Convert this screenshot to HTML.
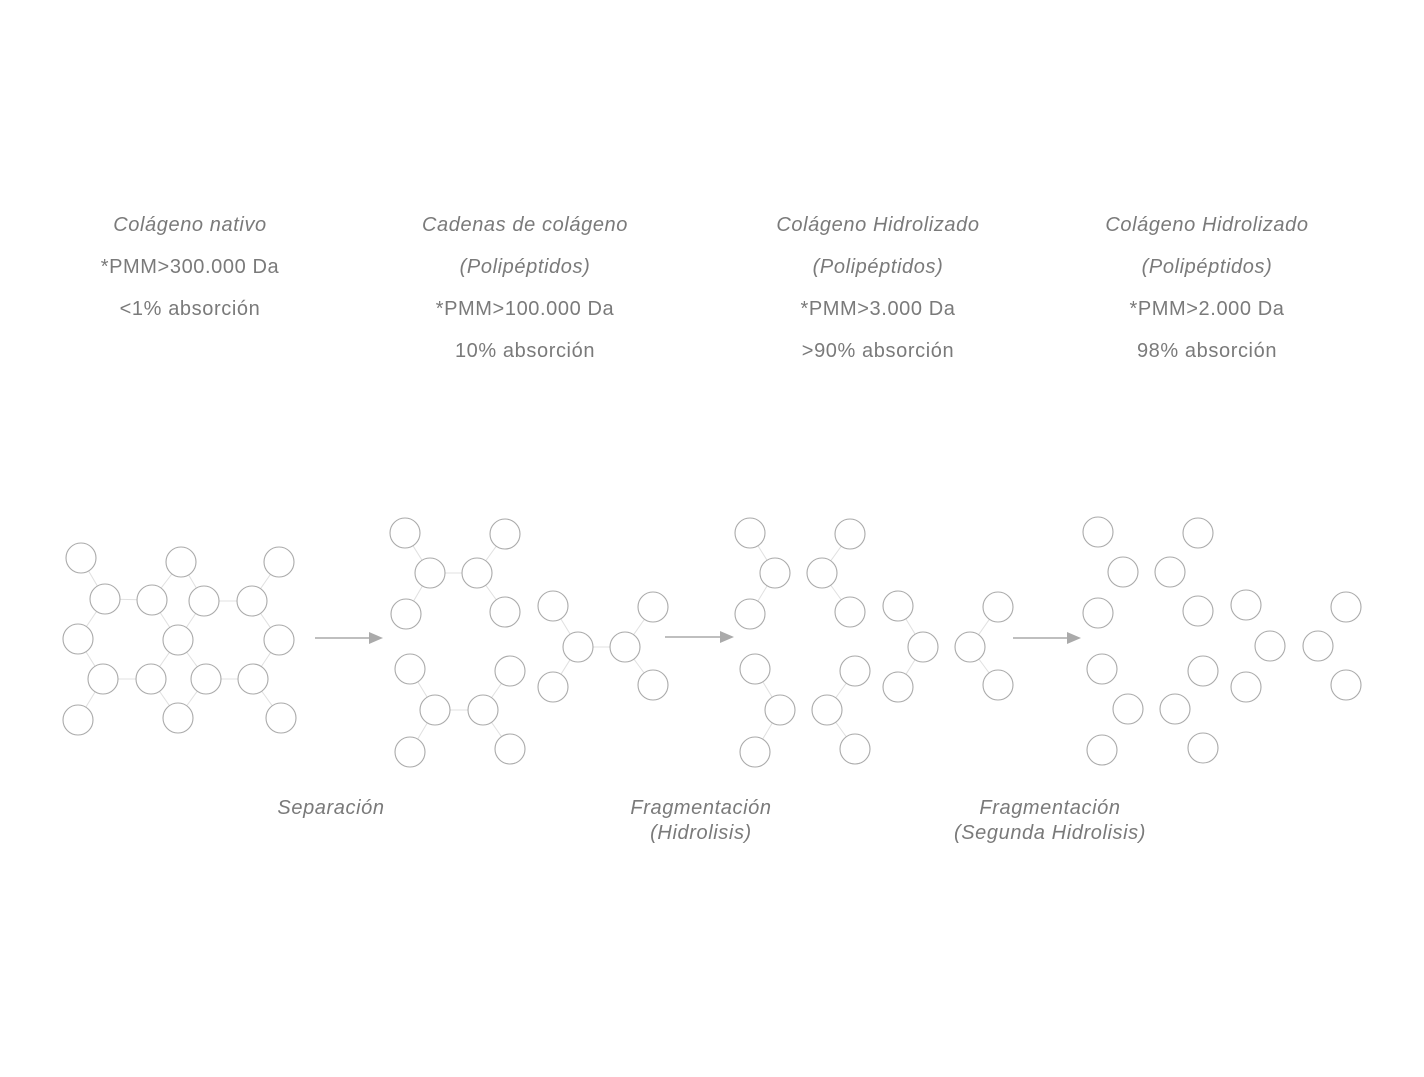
<!DOCTYPE html>
<html><head><meta charset="utf-8"><style>
html,body{margin:0;padding:0;background:#fff;}
svg{display:block;}
text{font-family:"Liberation Sans",sans-serif;font-size:20px;letter-spacing:0.6px;fill:#7a7a7a;}
.i{font-style:italic;}
circle{fill:#fff;stroke:#aaa;stroke-width:1.1;}
line.e{stroke:#e0e0e0;stroke-width:1;}
</style></head><body>
<svg width="1424" height="1077" viewBox="0 0 1424 1077">
<g text-anchor="middle">
<text x="190" y="231" class="i">Colágeno nativo</text>
<text x="190" y="273">*PMM&gt;300.000 Da</text>
<text x="190" y="315">&lt;1% absorción</text>
<text x="525" y="231" class="i">Cadenas de colágeno</text>
<text x="525" y="273" class="i">(Polipéptidos)</text>
<text x="525" y="315">*PMM&gt;100.000 Da</text>
<text x="525" y="357">10% absorción</text>
<text x="878" y="231" class="i">Colágeno Hidrolizado</text>
<text x="878" y="273" class="i">(Polipéptidos)</text>
<text x="878" y="315">*PMM&gt;3.000 Da</text>
<text x="878" y="357">&gt;90% absorción</text>
<text x="1207" y="231" class="i">Colágeno Hidrolizado</text>
<text x="1207" y="273" class="i">(Polipéptidos)</text>
<text x="1207" y="315">*PMM&gt;2.000 Da</text>
<text x="1207" y="357">98% absorción</text>
<text x="331" y="814" class="i">Separación</text>
<text x="701" y="814" class="i">Fragmentación</text>
<text x="701" y="839" class="i">(Hidrolisis)</text>
<text x="1050" y="814" class="i">Fragmentación</text>
<text x="1050" y="839" class="i">(Segunda Hidrolisis)</text>
</g>
<g stroke="#999" stroke-width="1.2">
<line x1="315" y1="638" x2="370" y2="638"/>
<line x1="665" y1="637" x2="721" y2="637"/>
<line x1="1013" y1="638" x2="1068" y2="638"/>
</g>
<g fill="#aaa">
<polygon points="369,632 383,638 369,644"/>
<polygon points="720,631 734,637 720,643"/>
<polygon points="1067,632 1081,638 1067,644"/>
</g>
<g>
<line class="e" x1="81" y1="558" x2="105" y2="599"/>
<line class="e" x1="105" y1="599" x2="152" y2="600"/>
<line class="e" x1="105" y1="599" x2="78" y2="639"/>
<line class="e" x1="78" y1="639" x2="103" y2="679"/>
<line class="e" x1="103" y1="679" x2="151" y2="679"/>
<line class="e" x1="103" y1="679" x2="78" y2="720"/>
<line class="e" x1="152" y1="600" x2="181" y2="562"/>
<line class="e" x1="152" y1="600" x2="178" y2="640"/>
<line class="e" x1="181" y1="562" x2="204" y2="601"/>
<line class="e" x1="204" y1="601" x2="178" y2="640"/>
<line class="e" x1="204" y1="601" x2="252" y2="601"/>
<line class="e" x1="252" y1="601" x2="279" y2="562"/>
<line class="e" x1="252" y1="601" x2="279" y2="640"/>
<line class="e" x1="279" y1="640" x2="253" y2="679"/>
<line class="e" x1="178" y1="640" x2="151" y2="679"/>
<line class="e" x1="178" y1="640" x2="206" y2="679"/>
<line class="e" x1="206" y1="679" x2="253" y2="679"/>
<line class="e" x1="151" y1="679" x2="178" y2="718"/>
<line class="e" x1="206" y1="679" x2="178" y2="718"/>
<line class="e" x1="253" y1="679" x2="281" y2="718"/>

<line class="e" x1="405" y1="533" x2="430" y2="573"/>
<line class="e" x1="430" y1="573" x2="406" y2="614"/>
<line class="e" x1="430" y1="573" x2="477" y2="573"/>
<line class="e" x1="477" y1="573" x2="505" y2="534"/>
<line class="e" x1="477" y1="573" x2="505" y2="612"/>
<line class="e" x1="553" y1="606" x2="578" y2="647"/>
<line class="e" x1="578" y1="647" x2="553" y2="687"/>
<line class="e" x1="578" y1="647" x2="625" y2="647"/>
<line class="e" x1="625" y1="647" x2="653" y2="607"/>
<line class="e" x1="625" y1="647" x2="653" y2="685"/>
<line class="e" x1="410" y1="669" x2="435" y2="710"/>
<line class="e" x1="435" y1="710" x2="410" y2="752"/>
<line class="e" x1="435" y1="710" x2="483" y2="710"/>
<line class="e" x1="483" y1="710" x2="510" y2="671"/>
<line class="e" x1="483" y1="710" x2="510" y2="749"/>

<line class="e" x1="750" y1="533" x2="775" y2="573"/>
<line class="e" x1="775" y1="573" x2="750" y2="614"/>
<line class="e" x1="850" y1="534" x2="822" y2="573"/>
<line class="e" x1="822" y1="573" x2="850" y2="612"/>
<line class="e" x1="898" y1="606" x2="923" y2="647"/>
<line class="e" x1="923" y1="647" x2="898" y2="687"/>
<line class="e" x1="998" y1="607" x2="970" y2="647"/>
<line class="e" x1="970" y1="647" x2="998" y2="685"/>
<line class="e" x1="755" y1="669" x2="780" y2="710"/>
<line class="e" x1="780" y1="710" x2="755" y2="752"/>
<line class="e" x1="855" y1="671" x2="827" y2="710"/>
<line class="e" x1="827" y1="710" x2="855" y2="749"/>
</g>
<g>
<circle cx="81" cy="558" r="15"/><circle cx="181" cy="562" r="15"/><circle cx="279" cy="562" r="15"/>
<circle cx="105" cy="599" r="15"/><circle cx="152" cy="600" r="15"/><circle cx="204" cy="601" r="15"/><circle cx="252" cy="601" r="15"/>
<circle cx="78" cy="639" r="15"/><circle cx="178" cy="640" r="15"/><circle cx="279" cy="640" r="15"/>
<circle cx="103" cy="679" r="15"/><circle cx="151" cy="679" r="15"/><circle cx="206" cy="679" r="15"/><circle cx="253" cy="679" r="15"/>
<circle cx="78" cy="720" r="15"/><circle cx="178" cy="718" r="15"/><circle cx="281" cy="718" r="15"/>

<circle cx="405" cy="533" r="15"/><circle cx="430" cy="573" r="15"/><circle cx="477" cy="573" r="15"/><circle cx="505" cy="534" r="15"/>
<circle cx="406" cy="614" r="15"/><circle cx="505" cy="612" r="15"/>
<circle cx="553" cy="606" r="15"/><circle cx="578" cy="647" r="15"/><circle cx="625" cy="647" r="15"/><circle cx="653" cy="607" r="15"/>
<circle cx="553" cy="687" r="15"/><circle cx="653" cy="685" r="15"/>
<circle cx="410" cy="669" r="15"/><circle cx="435" cy="710" r="15"/><circle cx="483" cy="710" r="15"/><circle cx="510" cy="671" r="15"/>
<circle cx="410" cy="752" r="15"/><circle cx="510" cy="749" r="15"/>

<circle cx="750" cy="533" r="15"/><circle cx="775" cy="573" r="15"/><circle cx="750" cy="614" r="15"/>
<circle cx="850" cy="534" r="15"/><circle cx="822" cy="573" r="15"/><circle cx="850" cy="612" r="15"/>
<circle cx="898" cy="606" r="15"/><circle cx="923" cy="647" r="15"/><circle cx="898" cy="687" r="15"/>
<circle cx="998" cy="607" r="15"/><circle cx="970" cy="647" r="15"/><circle cx="998" cy="685" r="15"/>
<circle cx="755" cy="669" r="15"/><circle cx="780" cy="710" r="15"/><circle cx="755" cy="752" r="15"/>
<circle cx="855" cy="671" r="15"/><circle cx="827" cy="710" r="15"/><circle cx="855" cy="749" r="15"/>

<circle cx="1098" cy="532" r="15"/><circle cx="1123" cy="572" r="15"/><circle cx="1098" cy="613" r="15"/>
<circle cx="1198" cy="533" r="15"/><circle cx="1170" cy="572" r="15"/><circle cx="1198" cy="611" r="15"/>
<circle cx="1246" cy="605" r="15"/><circle cx="1270" cy="646" r="15"/><circle cx="1246" cy="687" r="15"/>
<circle cx="1346" cy="607" r="15"/><circle cx="1318" cy="646" r="15"/><circle cx="1346" cy="685" r="15"/>
<circle cx="1102" cy="669" r="15"/><circle cx="1128" cy="709" r="15"/><circle cx="1102" cy="750" r="15"/>
<circle cx="1203" cy="671" r="15"/><circle cx="1175" cy="709" r="15"/><circle cx="1203" cy="748" r="15"/>
</g>
</svg>
</body></html>
